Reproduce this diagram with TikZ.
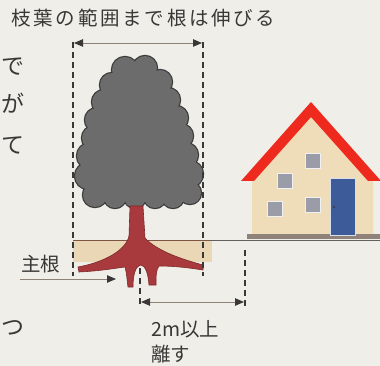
\documentclass[tikz,border=0pt]{standalone}
\usepackage{fontspec}
\newfontfamily\jp{Noto Sans CJK JP}
\usetikzlibrary{arrows.meta}
\definecolor{bg}{HTML}{EFEEE8}
\definecolor{ink}{HTML}{3A3836}
\definecolor{dimline}{HTML}{8C8278}
\definecolor{leaf}{HTML}{6C6C6C}
\definecolor{leafedge}{HTML}{3C3C3C}
\definecolor{wood}{HTML}{A8393C}
\definecolor{woodedge}{HTML}{7E2A2C}
\definecolor{soil}{HTML}{E9D7B6}
\definecolor{groundbrown}{HTML}{7E5446}
\definecolor{roof}{HTML}{EE2A1E}
\definecolor{wall}{HTML}{EEDDB8}
\definecolor{pane}{HTML}{9A9DA7}
\definecolor{door}{HTML}{3E5B99}
\definecolor{base}{HTML}{8E8279}
\tikzset{
  tri/.tip={Triangle[length=9pt,width=7.5pt,color=ink]},
  guide/.style={draw=ink,line width=1.3pt,dash pattern=on 6pt off 4pt},
  dimarrow/.style={draw=dimline,line width=0.8pt},
  label/.style={font=\jp\fontsize{19.5}{22}\selectfont,text=ink,inner sep=0pt},
  sidechar/.style={font=\jp\fontsize{23}{26}\selectfont,text=ink,inner sep=0pt,anchor=west},
}
\begin{document}
\begin{tikzpicture}[x=1pt,y=-1pt]
\useasboundingbox (0,0) rectangle (380,366);
\clip (0,0) rectangle (380,366);
\fill[bg] (0,0) rectangle (380,366);

% title and surrounding text
\node[label] (title) at (143.5,18) {\addfontfeature{LetterSpace=14}枝葉の範囲まで根は伸びる};
\node[sidechar] (c1) at (1,67) {で};
\node[sidechar] (c2) at (1,103) {が};
\node[sidechar] (c3) at (1,145) {て};
\node[sidechar] (c4) at (1,328) {つ};

% soil under the tree
\fill[soil] (73,241) rectangle (212,262);

% ground line
\coordinate (g1) at (73,240.5);
\coordinate (g2) at (210,240.5);
\coordinate (g3) at (380,240.5);
\draw[groundbrown,line width=1.2pt] (g1) -- (g2);
\draw[ink!80,line width=1.2pt] (g2) -- (g3);

% house
\fill[wall] (252,237) -- (252,176) -- (311,112) -- (373,179) -- (373,237) -- cycle;
\fill[roof] (241,181) -- (311,102) -- (381,181) -- (368,181) -- (311,117) -- (254,181) -- cycle;
\fill[base] (247,234) rectangle (380,239);
\foreach \x/\y in {305/153, 277/173, 267/201, 305/197}
  \fill[pane,draw=white!85!pane,line width=0.6pt] (\x,\y) rectangle ++(15,15);
\fill[door,draw=white!80!door,line width=0.8pt] (330,178) rectangle (355,235);
\fill[ink] (334,207) circle (1.2);

% tree canopy: outlined lobes, then filled
\def\lobes{125/70/13, 145/68/12, 112/85/12, 160/82/12, 104/102/12, 168/100/12,
  97/120/12, 176/118/12, 94/138/12, 181/136/12, 90/156/13, 186/155/12,
  88/176/13, 190/174/13, 95/195/12, 190/193/11, 115/197/11, 135/197/11,
  155/197/11, 173/197/11}
\foreach \x/\y/\r in \lobes \draw[leafedge,line width=2.4pt] (\x,\y) circle (\r);
\foreach \x/\y/\r in \lobes \fill[leaf] (\x,\y) circle (\r);
\fill[leaf] (125,70) -- (145,68) -- (160,82) -- (168,100) -- (176,118) -- (181,136)
  -- (186,155) -- (190,174) -- (190,193) -- (95,195) -- (88,176) -- (90,156)
  -- (94,138) -- (97,120) -- (104,102) -- (112,85) -- cycle;

% trunk and roots
\fill[wood,draw=woodedge,line width=0.6pt]
  (130,206) -- (129,236)
  .. controls (126,250) and (105,262) .. (78,267) -- (79,272)
  .. controls (100,271) and (117,268) .. (125,267)
  .. controls (127,274) and (127,281) .. (128,287) -- (133,287)
  .. controls (133,276) and (135,267) .. (140,265)
  .. controls (145,265) and (148,272) .. (149,285) -- (156,285)
  .. controls (156,276) and (156,270) .. (159,266)
  .. controls (175,266) and (190,268) .. (203,270) -- (203,265)
  .. controls (185,260) and (158,252) .. (145,238) -- (143,206) -- cycle;

% extent guides
\coordinate (v1a) at (73,42);  \coordinate (v1b) at (73,276);
\coordinate (v2a) at (203,42); \coordinate (v2b) at (203,276);
\coordinate (v3a) at (140,268); \coordinate (v3b) at (140,306);
\coordinate (v4a) at (245,250); \coordinate (v4b) at (245,306);
\draw[guide] (v1a) -- (v1b);
\draw[guide] (v2a) -- (v2b);
\draw[guide] (v3a) -- (v3b);
\draw[guide] (v4a) -- (v4b);

% dimension arrows
\coordinate (d1a) at (74,43);  \coordinate (d1b) at (202,43);
\coordinate (d2a) at (141,302); \coordinate (d2b) at (244,302);
\draw[dimarrow,tri-tri] (d1a) -- (d1b);
\draw[dimarrow,tri-tri] (d2a) -- (d2b);

% main root label
\node[label,anchor=west] (mainroot) at (21,264) {主根};
\coordinate (r1) at (20,279);
\coordinate (r2) at (116,279);
\draw[dimarrow,-tri] (r1) -- (r2);

% distance label
\node[label,anchor=west] (dist1) at (151,329) {2m以上};
\node[label,anchor=west] (dist2) at (151,354) {離す};
\end{tikzpicture}
\end{document}
